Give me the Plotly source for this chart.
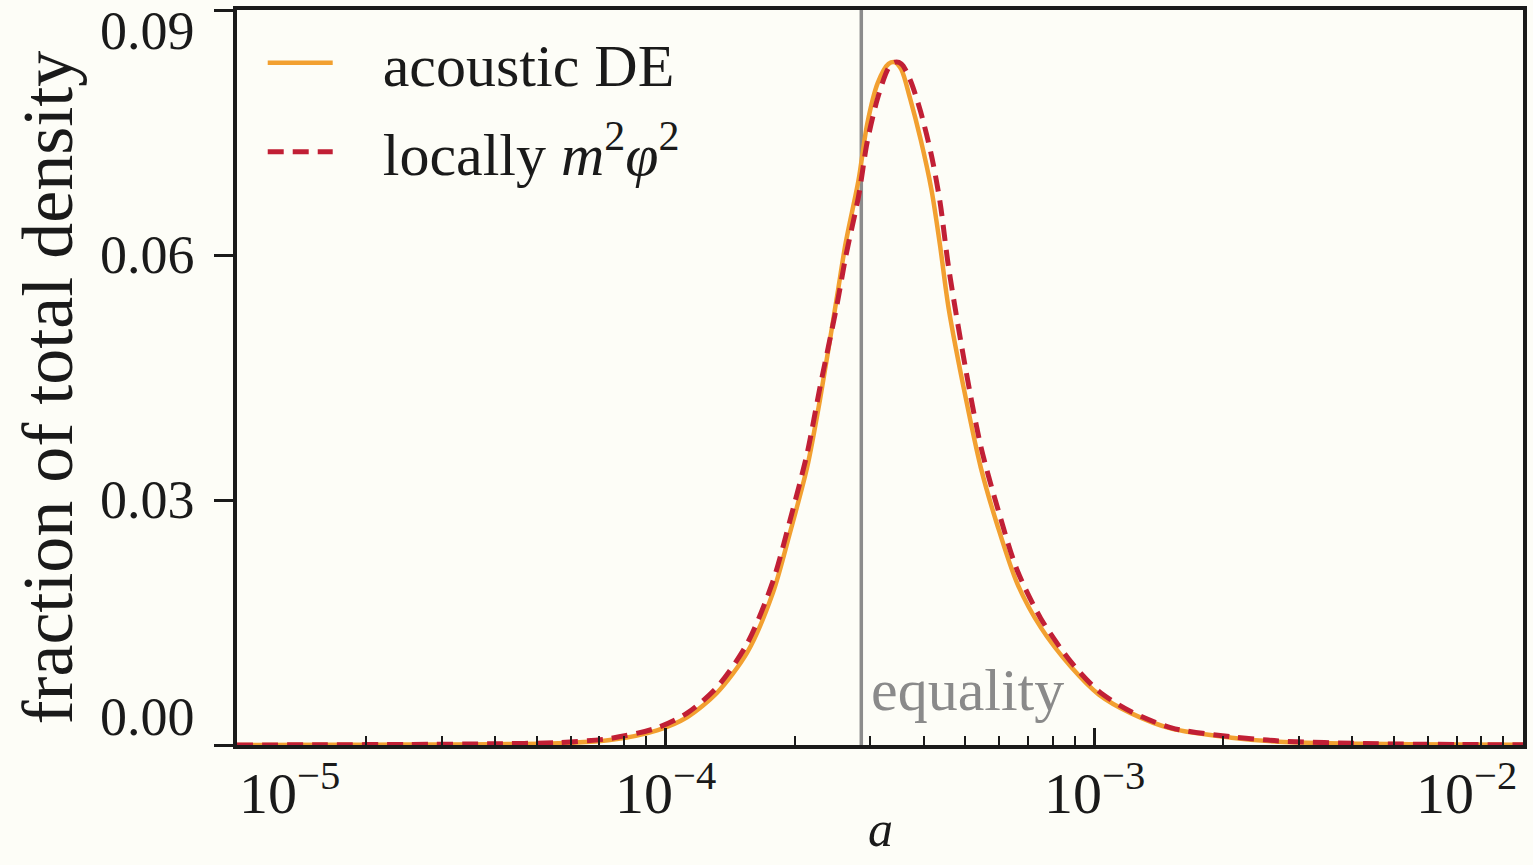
import math
import plotly.graph_objects as go

# ---- data ----
log10_a = [-5.0, -4.8, -4.6, -4.4, -4.25, -4.13, -4.02, -3.95, -3.88, -3.81, -3.75, -3.71,
           -3.67, -3.64, -3.60, -3.58, -3.55, -3.53, -3.505, -3.48, -3.465, -3.45, -3.43,
           -3.405, -3.38, -3.36, -3.34, -3.30, -3.265, -3.225, -3.18, -3.125, -3.055,
           -2.99, -2.915, -2.82, -2.68, -2.57, -2.37, -2.15, -2.0]

acoustic_de = [0.0, 0.00002, 0.00005, 0.0001, 0.0002, 0.0006, 0.0018, 0.0034, 0.0064, 0.0113,
               0.0186, 0.0260, 0.0340, 0.0423, 0.0550, 0.0615, 0.0692, 0.0760, 0.0811, 0.0834,
               0.0836, 0.0827, 0.0792, 0.0741, 0.0680, 0.0612, 0.0535, 0.0425, 0.0340, 0.0267,
               0.0198, 0.0144, 0.0096, 0.0062, 0.0039, 0.0020, 0.0009, 0.0004, 0.00015,
               0.00005, 0.00002]

locally_m2phi2 = [0.0, 0.00003, 0.00007, 0.00015, 0.0003, 0.0008, 0.0021, 0.0039, 0.0071, 0.0124,
                  0.0200, 0.0275, 0.0357, 0.0438, 0.0540, 0.0598, 0.0672, 0.0738, 0.0793, 0.0829,
                  0.0836, 0.0834, 0.0815, 0.0775, 0.0722, 0.0665, 0.0585, 0.0460, 0.0366, 0.0289,
                  0.0214, 0.0155, 0.0102, 0.0066, 0.0041, 0.0021, 0.0010, 0.0005, 0.00018,
                  0.00006, 0.00003]

a_equality = 2.86e-4

x_tick_vals = [1e-5, 1e-4, 1e-3, 1e-2]
x_tick_labels = ["10<sup>−5</sup>", "10<sup>−4</sup>", "10<sup>−3</sup>", "10<sup>−2</sup>"]
y_tick_vals = [0.0, 0.03, 0.06, 0.09]
y_tick_labels = ["0.00", "0.03", "0.06", "0.09"]

a_vals = [10 ** v for v in log10_a]
minor_vals = [k * d for d in (1e-5, 1e-4, 1e-3) for k in range(2, 10)]

FONT = "Liberation Serif"
BG = "#fdfdf7"
INK = "#1a1a1a"
ORANGE = "#f2a030"
RED = "#c11f35"
NB = "&nbsp;&nbsp;&nbsp;"

fig = go.Figure()

fig.add_trace(go.Scatter(x=[a_equality, a_equality], y=[0, 0.09], mode="lines",
                         line=dict(color="#8c8c8c", width=3.5), showlegend=False,
                         hoverinfo="skip"))
fig.add_trace(go.Scatter(x=a_vals, y=acoustic_de, mode="lines", name=NB + "acoustic DE",
                         legendgroup="g1",
                         line=dict(color=ORANGE, width=4.5, shape="spline", smoothing=0.8)))
fig.add_trace(go.Scatter(x=a_vals, y=locally_m2phi2, mode="lines", legendgroup="g2",
                         name=NB + "locally <i>m</i><sup>2</sup><i>φ</i><sup>2</sup>",
                         line=dict(color=RED, width=5, dash="16px,9px", shape="spline",
                                   smoothing=0.8)))

annotations = []
# x tick labels
for v, t in zip(x_tick_vals, x_tick_labels):
    if v == x_tick_vals[0]:
        anchor, shift = "left", 0
    elif v == x_tick_vals[-1]:
        anchor, shift = "right", -4
    else:
        anchor, shift = "center", 0
    annotations.append(dict(x=math.log10(v), xref="x", y=0, yref="paper", text=t,
                            showarrow=False, xanchor=anchor, yanchor="top", xshift=shift,
                            yshift=-6, font=dict(family=FONT, size=58, color=INK)))
# y tick labels
for v, t in zip(y_tick_vals, y_tick_labels):
    if v == y_tick_vals[0]:
        ys = 28
    elif v == y_tick_vals[-1]:
        ys = -21
    else:
        ys = 0
    annotations.append(dict(x=0, xref="paper", y=v, yref="y", text=t, showarrow=False,
                            xanchor="right", yanchor="middle", xshift=-40, yshift=ys,
                            font=dict(family=FONT, size=54, color=INK)))
# equality label
annotations.append(dict(x=math.log10(a_equality), xref="x", y=0, yref="paper", text="equality",
                        showarrow=False, xanchor="left", yanchor="bottom", xshift=8, yshift=20,
                        font=dict(family=FONT, size=60, color="#8a8a8a")))
# y title
annotations.append(dict(x=0, xref="paper", y=0.5, yref="paper",
                        text="fraction of total density", textangle=-90, showarrow=False,
                        xanchor="center", yanchor="middle", xshift=-190, yshift=-10,
                        font=dict(family=FONT, size=72, color=INK)))
# x title
annotations.append(dict(x=0.5, xref="paper", y=0, yref="paper", text="<i>a</i>",
                        showarrow=False, xanchor="center", yanchor="top", yshift=-54,
                        font=dict(family=FONT, size=50, color=INK)))

fig.update_layout(
    width=1533, height=865,
    margin=dict(l=237, r=6, t=10, b=120),
    paper_bgcolor=BG, plot_bgcolor=BG,
    font=dict(family=FONT, size=54, color=INK),
    showlegend=True,
    legend=dict(x=0.02, y=0.99, xanchor="left", yanchor="top", bgcolor="rgba(0,0,0,0)",
                font=dict(family=FONT, size=60, color=INK), itemwidth=65,
                tracegroupgap=8),
    annotations=annotations,
)
fig.update_xaxes(type="log", range=[-5, -2], showgrid=False, zeroline=False,
                 showline=True, linecolor=INK, linewidth=3.5, mirror=True,
                 tickvals=x_tick_vals, showticklabels=False,
                 ticks="inside", ticklen=17, tickwidth=2.5, tickcolor=INK,
                 minor=dict(tickvals=minor_vals, ticks="inside", ticklen=9, tickwidth=2,
                            tickcolor=INK, showgrid=False))
fig.update_yaxes(range=[0, 0.09], showgrid=False, zeroline=False,
                 showline=True, linecolor=INK, linewidth=3.5, mirror=True,
                 tickvals=y_tick_vals, showticklabels=False,
                 ticks="outside", ticklen=19, tickwidth=3, tickcolor=INK)

fig.write_html("out.html")
